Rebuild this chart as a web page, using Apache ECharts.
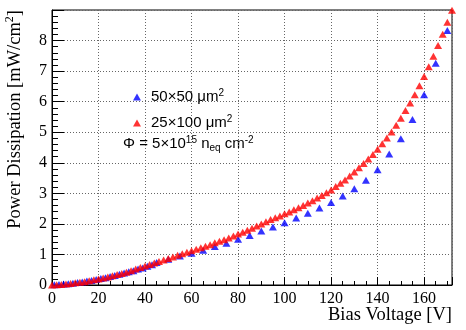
<!DOCTYPE html>
<html>
<head>
<meta charset="utf-8">
<script src="https://cdn.jsdelivr.net/npm/echarts@6/dist/echarts.min.js"></script>
<style>
  html, body { margin: 0; padding: 0; background: #fff; }
  #chart { width: 466px; height: 330px; }
</style>
</head>
<body>
<div id="chart"></div>
<script>
// 25x100 um^2 pixels, step 2 V
var voltsRed = [0, 2, 4, 6, 8, 10, 12, 14, 16, 18, 20, 22, 24, 26, 28, 30, 32, 34, 36, 38,
  40, 42, 44, 46, 48, 50, 52, 54, 56, 58, 60, 62, 64, 66, 68, 70, 72, 74, 76, 78,
  80, 82, 84, 86, 88, 90, 92, 94, 96, 98, 100, 102, 104, 106, 108, 110, 112, 114, 116, 118,
  120, 122, 124, 126, 128, 130, 132, 134, 136, 138, 140, 142, 144, 146, 148, 150, 152, 154, 156, 158,
  160, 162, 164, 166, 168, 170, 172];
var powerRed = [0.00, 0.01, 0.02, 0.03, 0.05, 0.07, 0.09, 0.11, 0.14, 0.17, 0.20, 0.23, 0.26, 0.30, 0.34, 0.38, 0.42, 0.47, 0.52, 0.57,
  0.62, 0.67, 0.72, 0.77, 0.82, 0.87, 0.92, 0.97, 1.02, 1.07, 1.12, 1.17, 1.22, 1.27, 1.32, 1.38, 1.43, 1.48, 1.54, 1.60,
  1.67, 1.73, 1.79, 1.86, 1.93, 2.00, 2.07, 2.14, 2.20, 2.26, 2.33, 2.39, 2.46, 2.53, 2.60, 2.68, 2.76, 2.85, 2.93, 3.02,
  3.11, 3.22, 3.33, 3.44, 3.57, 3.70, 3.84, 3.98, 4.12, 4.27, 4.44, 4.62, 4.81, 5.01, 5.23, 5.46, 5.71, 5.96, 6.23, 6.52,
  6.82, 7.14, 7.49, 7.84, 8.21, 8.60, 8.99];

// 50x50 um^2 pixels
var voltsBlue = [1, 3, 5, 7, 9, 11, 13, 15, 17, 19, 21, 23, 25, 27, 29, 31, 33, 35, 37, 39, 41, 43,
  45, 50, 55, 60, 65, 70, 75, 80, 85, 90, 95, 100, 105, 110, 115, 120, 125, 130, 135, 140, 145, 150, 155, 160, 165, 170];
var powerBlue = [0.01, 0.02, 0.03, 0.04, 0.06, 0.08, 0.10, 0.13, 0.15, 0.18, 0.21, 0.24, 0.28, 0.31, 0.35, 0.39, 0.43, 0.47, 0.52, 0.56, 0.61, 0.66,
  0.74, 0.84, 0.95, 1.04, 1.14, 1.26, 1.37, 1.50, 1.62, 1.77, 1.90, 2.04, 2.19, 2.35, 2.52, 2.70, 2.91, 3.15, 3.43, 3.77, 4.29, 4.79, 5.42, 6.23, 7.26, 8.33];

var xTicks = [0, 20, 40, 60, 80, 100, 120, 140, 160];
var yTicks = [0, 1, 2, 3, 4, 5, 6, 7, 8];

function pairs(xs, ys) {
  var out = [];
  for (var i = 0; i < xs.length; i++) out.push([xs[i], ys[i]]);
  return out;
}

var serif = '"Liberation Serif", "DejaVu Serif", serif';
var sans = '"Liberation Sans", Arial, sans-serif';
var supStyle = { fontSize: 10, fontFamily: sans, color: '#000', padding: [0, 0, 8, 0] };
var txtStyle = { fontSize: 15, fontFamily: sans, color: '#000' };

var chart = echarts.init(document.getElementById('chart'), null, { renderer: 'canvas' });

var gridLine = { show: true, lineStyle: { color: '#666', type: [1, 2], width: 1 } };

chart.setOption({
  animation: false,
  backgroundColor: '#fff',
  grid: { left: 52, right: 14, top: 10, bottom: 45, show: true, borderColor: '#000', borderWidth: 1, containLabel: false },
  xAxis: {
    type: 'value', min: 0, max: 172, interval: 20,
    axisLine: { show: true, lineStyle: { color: '#000', width: 1 } },
    axisTick: { show: true, inside: true, length: 8, lineStyle: { color: '#000' } },
    minorTick: { show: true, splitNumber: 4, length: 4, lineStyle: { color: '#000' } },
    splitLine: gridLine,
    axisLabel: {
      showMaxLabel: false, margin: 6, fontFamily: serif, fontSize: 16, color: '#000',
      formatter: function (v) { return xTicks.indexOf(v) >= 0 ? String(v) : ''; }
    }
  },
  yAxis: {
    type: 'value', min: 0, max: 9, interval: 1,
    axisLine: { show: true, lineStyle: { color: '#000', width: 1 } },
    axisTick: { show: true, inside: true, length: 12, lineStyle: { color: '#000' } },
    minorTick: { show: true, splitNumber: 5, length: 6, lineStyle: { color: '#000' } },
    splitLine: gridLine,
    axisLabel: {
      showMaxLabel: false, margin: 5, fontFamily: serif, fontSize: 16, color: '#000',
      formatter: function (v) { return yTicks.indexOf(v) >= 0 ? String(v) : ''; }
    }
  },
  legend: {
    orient: 'vertical', left: 128, top: 83, itemGap: 9,
    itemWidth: 8, itemHeight: 7,
    data: [
      { name: '50x50', icon: 'triangle', itemStyle: { color: '#0000ff' } },
      { name: '25x100', icon: 'triangle', itemStyle: { color: '#ff0000' } }
    ],
    textStyle: {
      padding: [0, 0, 0, 5], lineHeight: 16,
      rich: { t: txtStyle, s: supStyle }
    },
    formatter: function (name) {
      return name === '50x50' ? '{t|50×50 μm}{s|2}' : '{t|25×100 μm}{s|2}';
    }
  },
  graphic: [
    {
      type: 'text', left: 123, top: 135,
      style: {
        text: '{t|Φ = 5×10}{s|15}{t| n}{b|eq}{t| cm}{s|-2}',
        rich: {
          t: txtStyle, s: supStyle,
          b: { fontSize: 10, fontFamily: sans, color: '#000', padding: [8, 0, 0, 0] }
        }
      }
    },
    {
      type: 'text', x: 15, y: 10, rotation: Math.PI / 2,
      style: {
        text: 'Power Dissipation [mW/cm{s|2}]',
        rich: { s: { fontSize: 12, fontFamily: serif, color: '#000', padding: [0, 0, 10, 0] } },
        fontFamily: serif, fontSize: 18.5, fill: '#000',
        align: 'right', verticalAlign: 'middle'
      }
    },
    {
      type: 'text', x: 452, y: 315,
      style: {
        text: 'Bias Voltage [V]', fontFamily: serif, fontSize: 18.5, fill: '#000',
        align: 'right', verticalAlign: 'middle'
      }
    }
  ],
  series: [
    {
      name: '50x50', type: 'scatter', symbol: 'triangle', symbolSize: [8, 7],
      itemStyle: { color: '#0000ff' },
      data: pairs(voltsBlue, powerBlue)
    },
    {
      name: '25x100', type: 'scatter', symbol: 'triangle', symbolSize: [8, 7],
      itemStyle: { color: '#ff0000' },
      data: pairs(voltsRed, powerRed)
    }
  ]
});
</script>
</body>
</html>
